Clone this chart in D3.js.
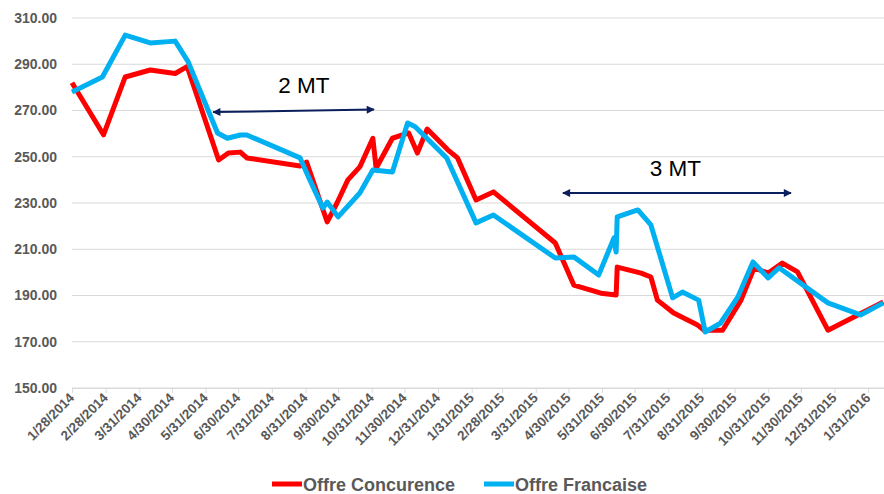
<!DOCTYPE html>
<html>
<head>
<meta charset="utf-8">
<script src="https://cdn.jsdelivr.net/npm/d3@7"></script>
<style>
  html, body { margin: 0; padding: 0; background: #ffffff; }
  svg { display: block; }
</style>
</head>
<body>
<svg id="chart" width="884" height="494"></svg>
<script>
// ---- Data ----
const seriesNames = ["Offre Concurence", "Offre Francaise"];
const seriesColors = ["#FF0000", "#00B0F0"];

const redDates = ["2014-01-28","2014-02-26","2014-03-18","2014-04-10","2014-05-03","2014-05-14","2014-06-12","2014-06-21","2014-07-02","2014-07-08","2014-08-26","2014-09-01","2014-09-20","2014-09-29","2014-10-09","2014-10-20","2014-11-01","2014-11-04","2014-11-19","2014-12-04","2014-12-12","2014-12-21","2015-01-09","2015-01-18","2015-02-04","2015-02-20","2015-04-18","2015-05-05","2015-05-30","2015-06-13","2015-06-14","2015-07-06","2015-07-15","2015-07-21","2015-08-05","2015-08-27","2015-09-02","2015-09-19","2015-10-06","2015-10-18","2015-10-31","2015-11-13","2015-11-27","2015-12-25","2016-02-14"];
const redValues = [282,259.5,284.5,287.5,286,289,248.6,251.6,252,249.5,246,247.7,221.8,230,240,245.6,258,245,258,260.3,251.6,262,253,249.5,231.3,234.8,212.7,194.5,191,190.2,202.3,199.7,198,188,182.4,177.2,175,175,188,201.9,199.7,204,200.2,175,187.2];

const blueDates = ["2014-01-28","2014-02-25","2014-03-18","2014-04-10","2014-05-03","2014-05-15","2014-06-11","2014-06-20","2014-07-02","2014-07-08","2014-08-26","2014-09-04","2014-09-16","2014-09-20","2014-09-30","2014-10-20","2014-11-01","2014-11-19","2014-12-03","2014-12-10","2015-01-08","2015-02-04","2015-02-20","2015-04-18","2015-05-05","2015-05-28","2015-06-11","2015-06-13","2015-06-14","2015-07-03","2015-07-15","2015-08-04","2015-08-13","2015-08-28","2015-09-03","2015-09-17","2015-10-03","2015-10-17","2015-10-31","2015-11-10","2015-12-25","2016-01-24","2016-02-14"];
const blueValues = [278,284.5,302.6,299.2,300,291,260.3,258,259.4,259.4,249.5,240,227.8,230.4,224,234.3,244.3,243.4,264.6,263,249.5,221.4,224.8,206.2,206.7,198.9,214.9,208.8,224,227,220.5,189,191.5,188,174.2,178,189.3,204.5,197.6,202,186.8,181.6,186.8];

const xTickLabels = ["1/28/2014","2/28/2014","3/31/2014","4/30/2014","5/31/2014","6/30/2014","7/31/2014","8/31/2014","9/30/2014","10/31/2014","11/30/2014","12/31/2014","1/31/2015","2/28/2015","3/31/2015","4/30/2015","5/31/2015","6/30/2015","7/31/2015","8/31/2015","9/30/2015","10/31/2015","11/30/2015","12/31/2015","1/31/2016"];
const yTicks = [150,170,190,210,230,250,270,290,310];

const annotations = [
  { label: "2 MT", from: "2014-06-07", to: "2014-11-02", yFrom: 269.3, yTo: 270.4, textDate: "2014-08-06", textY: 277.6 },
  { label: "3 MT", from: "2015-04-25", to: "2015-11-21", yFrom: 234.3, yTo: 234.3, textDate: "2015-07-14", textY: 241.7 }
];

// ---- Scales ----
const parse = d3.utcParse("%Y-%m-%d");
const parseTick = d3.utcParse("%m/%d/%Y");
const svg = d3.select("#chart");
const FONT = "'Liberation Sans', Arial, sans-serif";
const GREY = "#595959";

const x = d3.scaleUtc()
  .domain([parse("2014-01-28"), parse("2016-02-15")])
  .range([72, 884.4]);
const y = d3.scaleLinear().domain([150, 310]).range([388, 18]);

// Grid lines
svg.append("g")
  .selectAll("line")
  .data(yTicks)
  .join("line")
  .attr("x1", 72).attr("x2", 884)
  .attr("y1", d => y(d)).attr("y2", d => y(d))
  .attr("stroke", "#d9d9d9").attr("stroke-width", 1);

// Y axis labels
const yAxis = d3.axisLeft(y).tickValues(yTicks).tickFormat(d3.format(".2f")).tickSize(0).tickPadding(0);
const gy = svg.append("g").attr("transform", "translate(57,0)").call(yAxis);
gy.select(".domain").remove();
gy.selectAll("text")
  .attr("font-family", FONT).attr("font-weight", "bold")
  .attr("font-size", 14).attr("fill", GREY);

// X axis
const tickDates = xTickLabels.map(parseTick);
const xAxis = d3.axisBottom(x).tickValues(tickDates).tickSize(5).tickFormat((d, i) => xTickLabels[i]);
const gx = svg.append("g").attr("transform", "translate(0,388)").call(xAxis);
gx.select(".domain").attr("stroke", "#d9d9d9");
gx.selectAll(".tick line").attr("stroke", "#d9d9d9");
gx.selectAll("text")
  .attr("font-family", FONT).attr("font-weight", "bold")
  .attr("font-size", 13.5).attr("fill", GREY)
  .attr("text-anchor", "end")
  .attr("dy", 0)
  .attr("transform", "translate(-3,5) rotate(-45)");

// Lines
const line = d3.line().x(d => x(d.date)).y(d => y(d.value));
const seriesData = [
  redDates.map((d, i) => ({ date: parse(d), value: redValues[i] })),
  blueDates.map((d, i) => ({ date: parse(d), value: blueValues[i] }))
];
[0, 1].forEach(i => {
  svg.append("path")
    .datum(seriesData[i])
    .attr("fill", "none")
    .attr("stroke", seriesColors[i])
    .attr("stroke-width", 5)
    .attr("stroke-linejoin", "round")
    .attr("stroke-linecap", "butt")
    .attr("d", line);
});

// Annotation arrows
const defs = svg.append("defs");
defs.append("marker")
  .attr("id", "arrow")
  .attr("viewBox", "0 0 10 10")
  .attr("refX", 9).attr("refY", 5)
  .attr("markerWidth", 5).attr("markerHeight", 4)
  .attr("markerUnits", "strokeWidth")
  .attr("orient", "auto-start-reverse")
  .append("path").attr("d", "M0,0 L10,5 L0,10 Z").attr("fill", "#0B1F5C");

annotations.forEach(a => {
  svg.append("line")
    .attr("x1", x(parse(a.from))).attr("y1", y(a.yFrom))
    .attr("x2", x(parse(a.to))).attr("y2", y(a.yTo))
    .attr("stroke", "#0B1F5C").attr("stroke-width", 2)
    .attr("marker-start", "url(#arrow)")
    .attr("marker-end", "url(#arrow)");
  svg.append("text")
    .attr("x", x(parse(a.textDate))).attr("y", y(a.textY))
    .attr("font-family", FONT).attr("font-size", 22.5).attr("fill", "#000")
    .text(a.label);
});

// Legend
const legendItems = [
  { x: 272, name: seriesNames[0], color: seriesColors[0] },
  { x: 484, name: seriesNames[1], color: seriesColors[1] }
];
const lg = svg.append("g");
legendItems.forEach(it => {
  lg.append("line")
    .attr("x1", it.x).attr("x2", it.x + 30)
    .attr("y1", 484).attr("y2", 484)
    .attr("stroke", it.color).attr("stroke-width", 5);
  lg.append("text")
    .attr("x", it.x + 31).attr("y", 490.5)
    .attr("font-family", FONT).attr("font-weight", "bold")
    .attr("font-size", 18).attr("fill", GREY)
    .text(it.name);
});
</script>
</body>
</html>
